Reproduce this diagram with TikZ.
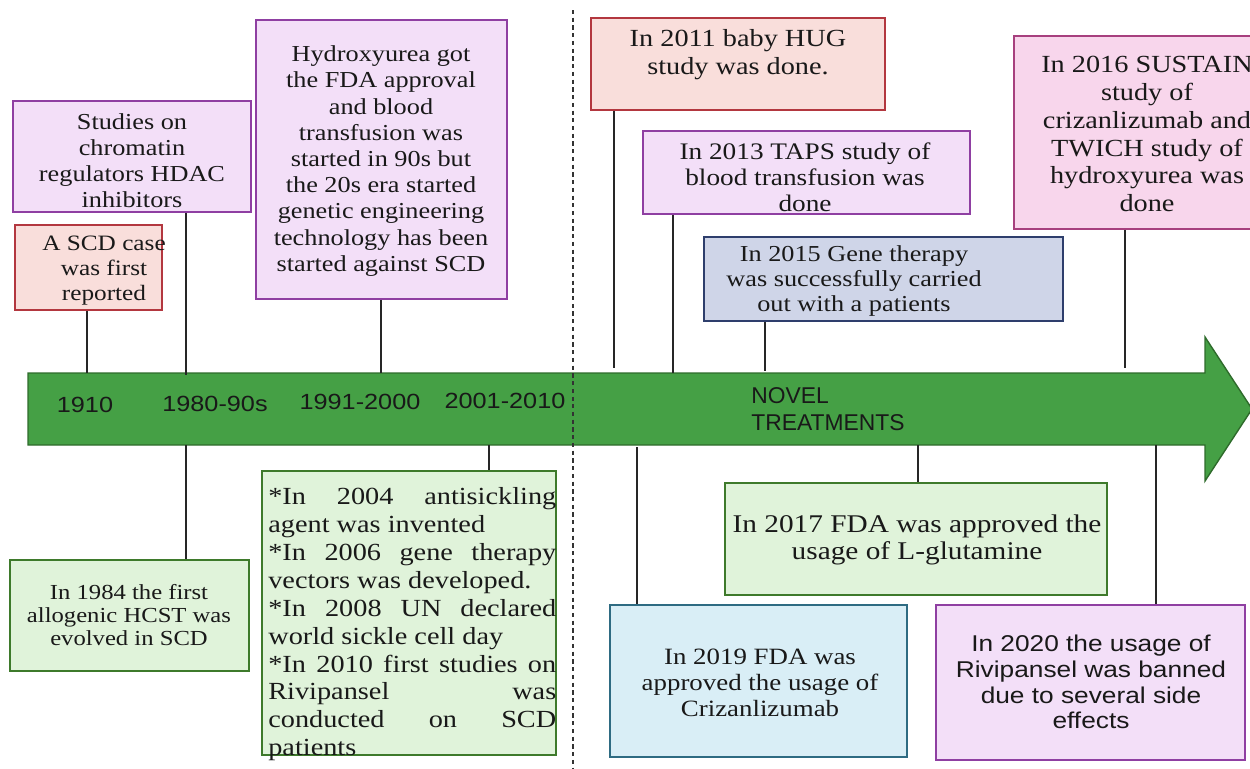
\documentclass[tikz,border=0pt]{standalone}
\usepackage{fontspec}
\setmainfont{Liberation Serif}[FakeStretch=1.15]
\setsansfont{Liberation Sans}[FakeStretch=1.15]
\newfontfamily\narrowsans{Liberation Sans}
\usepackage{tikz}

\definecolor{redline}{HTML}{B3373F}
\definecolor{redfill}{HTML}{F9DEDB}
\definecolor{violetline}{HTML}{8F3FA2}
\definecolor{violetfill}{HTML}{F3DFF8}
\definecolor{greenline}{HTML}{3E7A2B}
\definecolor{greenfill}{HTML}{E0F3DA}
\definecolor{slateline}{HTML}{2E3E6C}
\definecolor{slatefill}{HTML}{CFD5E8}
\definecolor{roseline}{HTML}{A7407E}
\definecolor{rosefill}{HTML}{F8D6EC}
\definecolor{tealline}{HTML}{2E6B82}
\definecolor{tealfill}{HTML}{D9EEF6}
\definecolor{arrowfill}{HTML}{45A045}
\definecolor{arrowline}{HTML}{2E6B2B}

\newcommand{\jline}[1]{\makebox[5.76cm][s]{#1}}
\newcommand{\fs}[2]{\fontsize{#1}{#2}\selectfont}

\begin{document}
\begin{tikzpicture}[x=0.02cm, y=-0.02cm,
    box/.style={draw, line width=1.1pt, inner sep=0pt},
    redbox/.style={box, draw=redline, fill=redfill},
    violetbox/.style={box, draw=violetline, fill=violetfill},
    greenbox/.style={box, draw=greenline, fill=greenfill},
    slatebox/.style={box, draw=slateline, fill=slatefill},
    rosebox/.style={box, draw=roseline, fill=rosefill},
    tealbox/.style={box, draw=tealline, fill=tealfill},
    txt/.style={align=center, inner sep=0pt, text=black!90},
    era/.style={font=\sffamily\fs{12.5}{15}, text=black!90, inner sep=0pt},
    tick/.style={line width=1pt, black!85}]
    \useasboundingbox (0,0) rectangle (1250,768);
    \clip (0,0) rectangle (1250,768);

    % Draw the timeline arrow
    \draw[fill=arrowfill, draw=arrowline, line width=0.8pt]
        (28,373) -- (1205,373) -- (1205,337) -- (1252,409) -- (1205,481) -- (1205,445) -- (28,445) -- cycle;

    % Label the eras on the arrow
    \node[era] (e1910) at (85,405) {1910};
    \node[era] (e1980) at (215,404) {1980-90s};
    \node[era] (e1991) at (360,402) {1991-2000};
    \node[era] (e2001) at (505,401) {2001-2010};
    \node[era, font=\narrowsans\fs{13}{15.5}, align=left, anchor=west] (enovel) at (751,409) {NOVEL\\TREATMENTS};

    % Points where the ticks meet the arrow
    \coordinate (t1910) at (87,373);
    \coordinate (t1980) at (186,375);
    \coordinate (t1991) at (381,373);
    \coordinate (t2011) at (614,368);
    \coordinate (t2013) at (673,373);
    \coordinate (t2015) at (765,371);
    \coordinate (t2016) at (1125,368);
    \coordinate (b1980) at (186,445);
    \coordinate (b2001) at (489,445);
    \coordinate (b2019) at (637,447);
    \coordinate (b2017) at (918,445);
    \coordinate (b2020) at (1156,445);

    % Boxes above the arrow
    \node[redbox, minimum width=2.94cm, minimum height=1.7cm] (scd) at (88.5,267.5) {};
    \node[txt, font=\fs{12.5}{14.2}] (scdtxt) at (104,271) {A SCD case\\was first\\reported};
    \node[violetbox, minimum width=4.76cm, minimum height=2.22cm] (hdac) at (132,156.5) {};
    \node[txt, font=\fs{13}{14.8}] (hdactxt) at (132,161) {Studies on\\chromatin\\regulators HDAC\\inhibitors};
    \node[violetbox, minimum width=5.02cm, minimum height=5.58cm] (hu) at (381.5,159.5) {};
    \node[txt, font=\fs{13}{14.9}] (hutxt) at (381,161) {Hydroxyurea got\\the FDA approval\\and blood\\transfusion was\\started in 90s but\\the 20s era started\\genetic engineering\\technology has been\\started against SCD};
    \node[redbox, minimum width=5.88cm, minimum height=1.84cm] (hug) at (738,64) {};
    \node[txt, font=\fs{14}{15.9}] (hugtxt) at (738,55) {In 2011 baby HUG\\study was done.};
    \node[violetbox, minimum width=6.54cm, minimum height=1.66cm] (taps) at (806.5,172.5) {};
    \node[txt, font=\fs{13.5}{14.7}] (tapstxt) at (805,177) {In 2013 TAPS study of\\blood transfusion was\\done};
    \node[slatebox, minimum width=7.18cm, minimum height=1.68cm] (gene) at (883.5,279) {};
    \node[txt, font=\fs{13}{14.5}] (genetxt) at (854,281) {In 2015 Gene therapy\\was successfully carried\\out with a patients};
    \node[rosebox, minimum width=4.96cm, minimum height=3.86cm] (sustain) at (1138,132.5) {};
    \node[txt, font=\fs{14}{15.9}] (sustaintxt) at (1147,134) {In 2016 SUSTAIN\\study of\\crizanlizumab and\\TWICH study of\\hydroxyurea was\\done};

    % Boxes below the arrow
    \node[greenbox, minimum width=4.78cm, minimum height=2.22cm] (hcst) at (129.5,615.5) {};
    \node[txt, font=\fs{12.2}{13.3}] (hcsttxt) at (129,615) {In 1984 the first\\allogenic HCST was\\evolved in SCD};
    \node[greenbox, minimum width=5.88cm, minimum height=5.68cm] (list) at (409,613) {};
    \node[inner sep=0pt, anchor=north west, align=left, text=black!90, font=\fs{14}{15.9}] (listtxt) at (268,487)
        {\jline{*In 2004 antisickling}\\agent was invented\\\jline{*In 2006 gene therapy}\\vectors was developed.\\
         \jline{*In 2008 UN declared}\\world sickle cell day\\\jline{*In 2010 first studies on}\\\jline{Rivipansel was}\\
         \jline{conducted on SCD}\\patients};
    \node[greenbox, minimum width=7.64cm, minimum height=2.24cm] (glut) at (916,539) {};
    \node[txt, font=\fs{14.5}{15.3}] (gluttxt) at (917,539.5) {In 2017 FDA was approved the\\usage of L-glutamine};
    \node[tealbox, minimum width=5.94cm, minimum height=3.04cm] (criz) at (758.5,681) {};
    \node[txt, font=\fs{13.3}{14.7}] (criztxt) at (760,683) {In 2019 FDA was\\approved the usage of\\Crizanlizumab};
    \node[violetbox, minimum width=6.18cm, minimum height=3.1cm] (rivi) at (1090.5,682.5) {};
    \node[txt, font=\sffamily\fs{13}{14.7}] (rivitxt) at (1091,682) {In 2020 the usage of\\Rivipansel was banned\\due to several side\\effects};

    % Ticks from the boxes to the arrow
    \draw[tick] (scd.south -| t1910) -- (t1910);
    \draw[tick] (hdac.south -| t1980) -- (t1980);
    \draw[tick] (hu.south -| t1991) -- (t1991);
    \draw[tick] (hug.south -| t2011) -- (t2011);
    \draw[tick] (taps.south -| t2013) -- (t2013);
    \draw[tick] (gene.south -| t2015) -- (t2015);
    \draw[tick] (sustain.south -| t2016) -- (t2016);
    \draw[tick] (b1980) -- (hcst.north -| b1980);
    \draw[tick] (b2001) -- (list.north -| b2001);
    \draw[tick] (b2019) -- (criz.north -| b2019);
    \draw[tick] (b2017) -- (glut.north -| b2017);
    \draw[tick] (b2020) -- (rivi.north -| b2020);

    % Dotted divider before the novel treatments
    \draw[line width=1.2pt, black!80, dash pattern=on 2.4pt off 2pt] (573,10) -- (573,768);
\end{tikzpicture}
\end{document}
